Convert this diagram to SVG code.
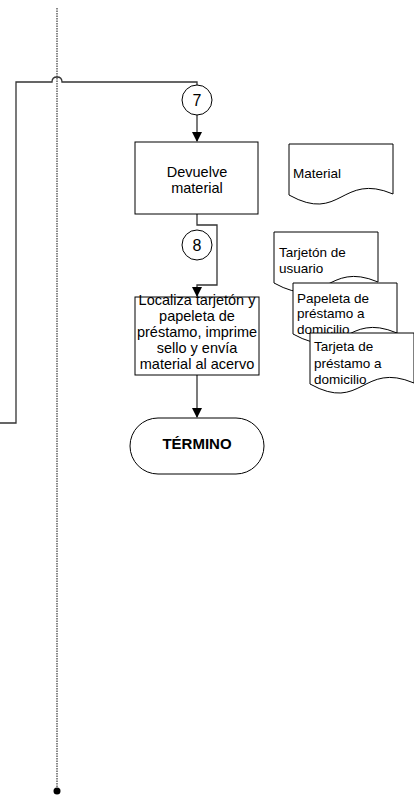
<svg xmlns="http://www.w3.org/2000/svg" width="414" height="795" viewBox="0 0 414 795">
<style>
.t{font-family:"Liberation Sans",Arial,sans-serif;font-size:13.5px;fill:#000}
.p{font-size:14.5px}
.n{font-size:16px}
.b{font-size:15px;font-weight:bold}
.c{text-anchor:middle}
.box{fill:#fff;stroke:#000;stroke-width:1}
.doc{fill:#fff;stroke:#000;stroke-width:1}
.ln{fill:none;stroke:#333;stroke-width:1.3}
</style>
<defs>
<marker id="ah" markerWidth="10" markerHeight="10" refX="9" refY="5" orient="auto" markerUnits="userSpaceOnUse">
<path d="M0,0 L10,5 L0,10 Z" fill="#000"/>
</marker>
</defs>
<g id="lifeline">
<line x1="57" y1="8" x2="57" y2="788" stroke="#888" stroke-width="2" stroke-dasharray="1.5 1"/>
<circle cx="57" cy="791" r="3.5" fill="#000"/>
</g>
<g id="connectors">
<path class="ln" d="M0,423 H16 V82 H52 Q52,77 57,77 Q62,77 62,82 H197 V85"/>
<path class="ln" d="M197,115 V141" marker-end="url(#ah)"/>
<path class="ln" d="M197,214 V225 H217 V285 H197 V296" marker-end="url(#ah)"/>
<path class="ln" d="M197,375 V417" marker-end="url(#ah)"/>
</g>
<g id="c7">
<circle cx="197" cy="100" r="15" class="box"/>
<text x="197" y="106" class="t n c">7</text>
</g>
<g id="n1">
<rect x="135" y="142" width="123" height="72" class="box"/>
<text x="197" y="177" class="t p c">Devuelve</text>
<text x="197" y="193" class="t p c">material</text>
</g>
<g id="c8">
<circle cx="197" cy="245" r="15" class="box"/>
<text x="197" y="251" class="t n c">8</text>
</g>
<g id="n2">
<rect x="135" y="297" width="124" height="78" class="box"/>
<text x="197" y="305" class="t p c">Localiza tarjetón y</text>
<text x="197" y="321" class="t p c">papeleta de</text>
<text x="197" y="337" class="t p c">préstamo, imprime</text>
<text x="197" y="353" class="t p c">sello y envía</text>
<text x="197" y="369" class="t p c">material al acervo</text>
</g>
<g id="fin">
<rect x="130" y="418" width="134" height="56" rx="28" ry="28" class="box"/>
<text x="197" y="449" class="t b c">TÉRMINO</text>
</g>
<g id="d1">
<path class="doc" d="M289,144 H393 V194 C341,172 341,224 289,195 Z"/>
<text x="293" y="178" class="t">Material</text>
</g>
<g id="d2">
<path class="doc" d="M274,232 H378 V282 C326,260 326,312 274,283 Z"/>
<text x="279" y="257" class="t">Tarjetón de</text>
<text x="279" y="273" class="t">usuario</text>
</g>
<g id="d3">
<path class="doc" d="M293,283 H397 V333 C345,311 345,363 293,334 Z"/>
<text x="297" y="303" class="t">Papeleta de</text>
<text x="297" y="318" class="t">préstamo a</text>
<text x="297" y="334" class="t">domicilio</text>
</g>
<g id="d4">
<path class="doc" d="M310,333 H414 V383 C362,361 362,413 310,384 Z"/>
<text x="314" y="351" class="t">Tarjeta de</text>
<text x="314" y="368" class="t">préstamo a</text>
<text x="314" y="384" class="t">domicilio</text>
</g>
</svg>
